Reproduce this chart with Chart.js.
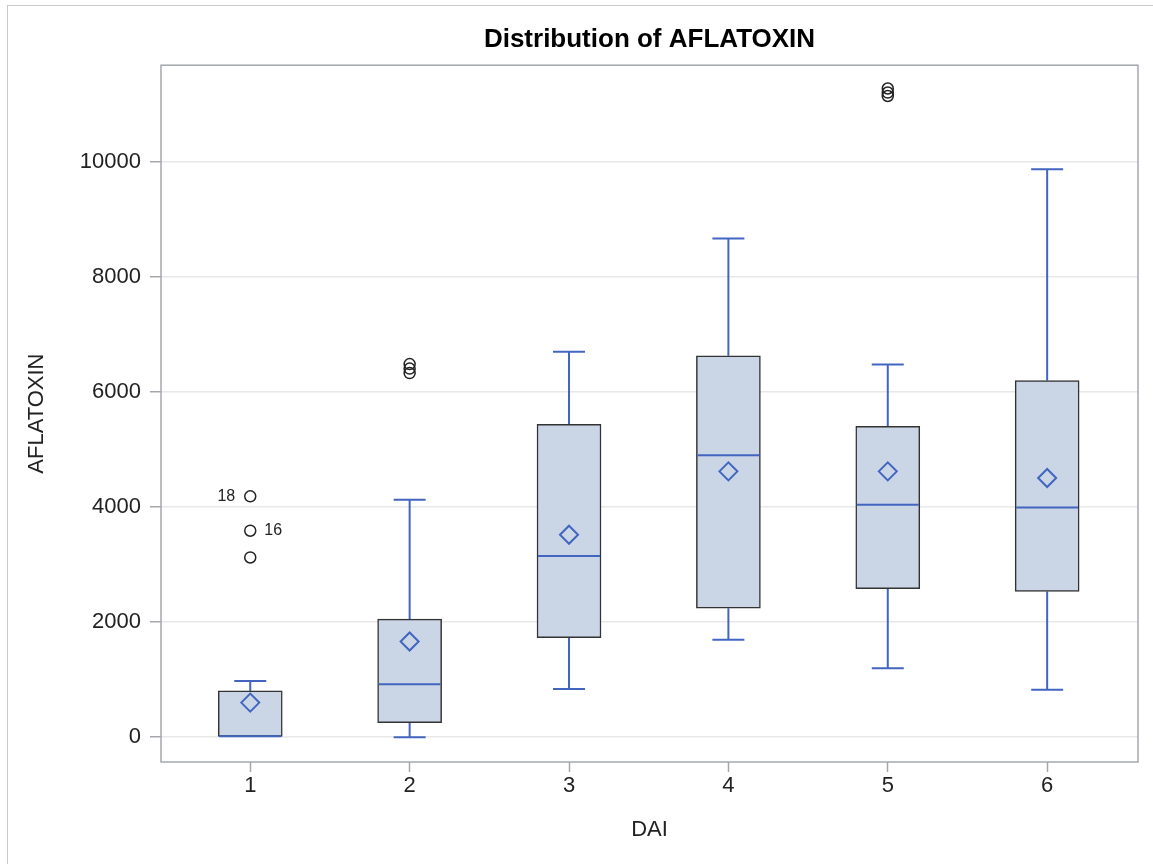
<!DOCTYPE html>
<html lang="en">
<head>
<meta charset="UTF-8">
<title>Distribution of AFLATOXIN</title>
<script src="https://cdn.jsdelivr.net/npm/chart.js"></script>
<style>
body {
margin: 0;
background: #fff;
overflow: hidden;
}
#wrap {
position: relative;
width: 1153px;
height: 864px;
}
#wrap canvas {
position: absolute;
left: 0;
top: 0;
}
#frame {
position: absolute;
left: 7px;
top: 5px;
right: 0;
bottom: -4px;
border-left: 1.5px solid #cacaca;
border-top: 1.5px solid #cacaca;
pointer-events: none;
}
</style>
</head>
<body>
<div id="wrap">
<canvas id="boxChart" width="1153" height="864"></canvas>
<div id="frame"></div>
</div>

<script>
// box statistics per DAI group
const dai = [1, 2, 3, 4, 5, 6];
const whiskerLow = [0, 0, 840, 1692, 1200, 823];
const q1 = [0, 254, 1732, 2243, 2579, 2533];
const median = [0, 922, 3148, 4897, 4040, 3993];
const q3 = [805, 2052, 5437, 6626, 5402, 6197];
const whiskerHigh = [979, 4127, 6696, 8666, 6475, 9866];
const means = [602, 1663, 3518, 4619, 4619, 4504];

// outliers
const outlierDai = [1, 1, 1, 2, 2, 2, 5, 5, 5];
const outlierValues = [4185, 3588, 3123, 6483, 6405, 6327, 11270, 11200, 11140];
const outlierIds = ['18', '16', '', '', '', '', '', '', ''];

const yTicks = [0, 2000, 4000, 6000, 8000, 10000];

const FONT = 'Liberation Sans';
const BLUE = '#4266c0';

const boxParts = {
id: 'boxParts',
beforeDatasetsDraw(chart) {
const { ctx, scales: { x, y } } = chart;
ctx.save();
ctx.strokeStyle = BLUE;
ctx.lineWidth = 2;
const cap = 16;
dai.forEach((d, i) => {
const px = x.getPixelForValue(d);
const lo = y.getPixelForValue(whiskerLow[i]);
const hi = y.getPixelForValue(whiskerHigh[i]);
ctx.beginPath();
ctx.moveTo(px, y.getPixelForValue(q3[i]));
ctx.lineTo(px, hi);
ctx.moveTo(px, y.getPixelForValue(q1[i]));
ctx.lineTo(px, lo);
ctx.moveTo(px - cap, hi);
ctx.lineTo(px + cap, hi);
if (whiskerLow[i] < q1[i]) {
ctx.moveTo(px - cap, lo);
ctx.lineTo(px + cap, lo);
}
ctx.stroke();
});
ctx.restore();
},
afterDatasetDraw(chart, args) {
if (args.meta.type !== 'bar') return;
const { ctx, scales: { x, y } } = chart;
const half = args.meta.data[0].width / 2 - 1;
ctx.save();
ctx.strokeStyle = BLUE;
ctx.lineWidth = 2;
dai.forEach((d, i) => {
const px = x.getPixelForValue(d);
const py = y.getPixelForValue(median[i]) - (median[i] === q1[i] ? 1 : 0);
ctx.beginPath();
ctx.moveTo(px - half, py);
ctx.lineTo(px + half, py);
ctx.stroke();
});
ctx.restore();
},
afterDraw(chart) {
const { ctx, chartArea: a } = chart;
ctx.save();
ctx.strokeStyle = '#a4a8ae';
ctx.lineWidth = 1.5;
ctx.strokeRect(a.left, a.top, a.right - a.left, a.bottom - a.top);

// observation numbers beside the labelled outliers
const side = { '18': 'left', '16': 'right' };
const pts = chart.getDatasetMeta(1).data;
ctx.font = '16px ' + FONT;
ctx.fillStyle = '#222';
ctx.textBaseline = 'middle';
outlierIds.forEach((id, i) => {
if (!id) return;
const p = pts[i];
if (side[id] === 'left') {
ctx.textAlign = 'right';
ctx.fillText(id, p.x - 15, p.y);
} else {
ctx.textAlign = 'left';
ctx.fillText(id, p.x + 14, p.y);
}
});
ctx.restore();
}
};

new Chart(document.getElementById('boxChart'), {
data: {
datasets: [{
type: 'line',
label: 'Mean',
data: dai.map((d, i) => ({ x: d, y: means[i] })),
showLine: false,
pointStyle: 'rectRot',
pointRadius: 9,
pointHoverRadius: 9,
pointBorderWidth: 2,
borderColor: BLUE,
pointBorderColor: BLUE,
pointBackgroundColor: 'rgba(0,0,0,0)',
order: 1
}, {
type: 'line',
label: 'Outliers',
data: outlierDai.map((d, i) => ({ x: d, y: outlierValues[i] })),
showLine: false,
pointStyle: 'circle',
pointRadius: 5.5,
pointHoverRadius: 5.5,
pointBorderWidth: 1.5,
borderColor: '#222',
pointBorderColor: '#222',
pointBackgroundColor: 'rgba(0,0,0,0)',
order: 1
}, {
type: 'bar',
label: 'Box',
data: dai.map((d, i) => ({ x: d, y: [q1[i], q3[i]] })),
backgroundColor: '#cad5e6',
borderColor: '#333333',
borderWidth: 1.5,
borderSkipped: false,
barThickness: 64,
order: 2
}]
},
options: {
responsive: false,
animation: false,
events: [],
layout: {
padding: { top: 15, right: 15, bottom: 0, left: 0 }
},
plugins: {
legend: { display: false },
tooltip: { enabled: false },
title: {
display: true,
text: 'Distribution of AFLATOXIN',
fullSize: false,
color: '#000',
font: { family: FONT, size: 26, weight: 'bold' },
padding: { top: 9, bottom: 10 }
}
},
scales: {
x: {
type: 'linear',
min: 0.44,
max: 6.57,
offset: false,
afterBuildTicks: s => { s.ticks = dai.map(v => ({ value: v })); },
afterFit: s => { s.height = 102; },
border: { display: false },
grid: {
offset: false,
drawOnChartArea: false,
tickLength: 10,
tickColor: '#a4a8ae',
tickWidth: 1.5
},
ticks: {
color: '#222',
font: { family: FONT, size: 22 },
padding: 1,
callback: v => String(v)
},
title: {
display: true,
text: 'DAI',
color: '#222',
font: { family: FONT, size: 22 },
padding: { top: 0, bottom: 21 }
}
},
y: {
type: 'linear',
min: -430,
max: 11675,
afterBuildTicks: s => { s.ticks = yTicks.map(v => ({ value: v })); },
afterFit: s => { s.width = 161; },
border: { display: false },
grid: {
color: '#e8e8e8',
lineWidth: 1.5,
tickLength: 11,
tickColor: '#a4a8ae',
tickWidth: 1.5
},
ticks: {
color: '#222',
font: { family: FONT, size: 22 },
padding: 9,
callback: v => String(v)
},
title: {
display: true,
text: 'AFLATOXIN',
color: '#222',
font: { family: FONT, size: 22 },
padding: { top: 24, bottom: 0 }
}
}
}
},
plugins: [boxParts]
});
</script>
</body>
</html>
